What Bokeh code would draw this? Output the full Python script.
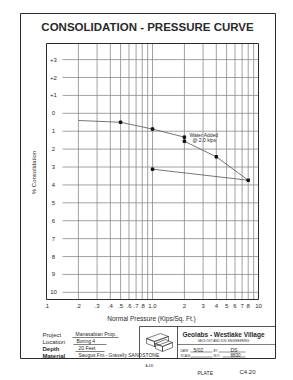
from bokeh.plotting import figure
from bokeh.models import Range1d, LogScale
from bokeh.core.properties import value
from bokeh.embed import file_html
from bokeh.resources import INLINE

# ---------------- data ----------------
# loading branch (before water added)
load_pressure = [0.2, 0.5, 1.0, 2.0]
load_consol = [0.4, 0.5, 0.88, 1.33]
load_marked = [False, True, True, True]
# after water added at 2.0 kips
wet_pressure = [2.0, 4.0, 8.0]
wet_consol = [1.56, 2.43, 3.74]
# rebound
rebound_pressure = [8.0, 1.0]
rebound_consol = [3.74, 3.12]

x_tick_values = [0.1, 0.2, 0.3, 0.4, 0.5, 0.6, 0.7, 0.8, 1.0, 2, 3, 4, 5, 6, 7, 8, 10]
x_tick_labels = [".1", ".2", ".3", ".4", ".5", ".6", ".7", ".8", "1.0", "2", "3", "4", "5", "6", "7", "8", "10"]
x_grid_values = [0.2, 0.3, 0.4, 0.5, 0.6, 0.7, 0.8, 0.9, 1, 2, 3, 4, 5, 6, 7, 8, 9]
y_tick_values = [-3, -2, -1, 0, 1, 2, 3, 4, 5, 6, 7, 8, 9, 10]
y_tick_labels = ["+3", "+2", "+1", "0", "1", "2", "3", "4", "5", "6", "7", "8", "9", "10"]

# ---------------- layout constants (canvas pixels) ----------------
W, H = 293, 380
PX_LEFT, PX_RIGHT, PX_TOP, PX_BOTTOM = 46, 258, 43, 299
X_MIN, X_MAX = 0.1, 10.0
Y_TOP, Y_BOTTOM = -3.9, 10.4

FONT = "Liberation Sans"
INK = "#2a2a2a"
GRID = "#8a8a8a"

import math
dec_px = (PX_RIGHT - PX_LEFT) / (math.log10(X_MAX) - math.log10(X_MIN))
xa = 10 ** (math.log10(X_MIN) - PX_LEFT / dec_px)
xb = 10 ** (math.log10(X_MAX) + (W - PX_RIGHT) / dec_px)
unit_px = (PX_BOTTOM - PX_TOP) / (Y_BOTTOM - Y_TOP)
ya = Y_BOTTOM + (H - PX_BOTTOM) / unit_px   # value at canvas bottom
yb = Y_TOP - PX_TOP / unit_px              # value at canvas top

p = figure(width=W, height=H, x_range=Range1d(0, W), y_range=Range1d(H, 0),
           min_border=0, x_axis_location=None, y_axis_location=None,
           output_backend="svg", toolbar_location=None)
p.title.visible = False
p.outline_line_color = None
p.grid.visible = False
p.background_fill_color = "white"
p.border_fill_color = "white"
p.extra_x_ranges = {"press": Range1d(xa, xb)}
p.extra_x_scales = {"press": LogScale()}
p.extra_y_ranges = {"pct": Range1d(ya, yb)}
C = dict(x_range_name="press", y_range_name="pct")

# vertical grid lines
p.segment(x0=x_grid_values, x1=x_grid_values, y0=[Y_TOP] * len(x_grid_values),
          y1=[Y_BOTTOM] * len(x_grid_values), line_color=GRID, line_width=0.8, **C)
# horizontal grid lines (leave room for labels on the left)
p.segment(x0=[0.1416] * len(y_tick_values), x1=[X_MAX] * len(y_tick_values),
          y0=y_tick_values, y1=y_tick_values, line_color=GRID, line_width=0.8, **C)
# frame
p.quad(left=[X_MIN], right=[X_MAX], top=[Y_TOP], bottom=[Y_BOTTOM],
       fill_alpha=0, line_color=INK, line_width=1, **C)
# tick labels
p.text(x=[X_MIN] * len(y_tick_values), y=y_tick_values, text=y_tick_labels,
       x_offset=7, text_align="center", text_baseline="middle",
       text_font=value(FONT), text_font_size="6px", text_color=INK, **C)
p.text(x=x_tick_values, y=[Y_BOTTOM] * len(x_tick_values), text=x_tick_labels,
       y_offset=6, text_align="center", text_baseline="middle",
       text_font=value(FONT), text_font_size="6px", text_color=INK, **C)

# curves
p.line(load_pressure, load_consol, line_color="#555", line_width=0.8, **C)
p.line([load_pressure[-1], wet_pressure[0]], [load_consol[-1], wet_consol[0]],
       line_color="#555", line_width=0.8, **C)
p.line(wet_pressure, wet_consol, line_color="#555", line_width=0.8, **C)
p.line(rebound_pressure, rebound_consol, line_color="#555", line_width=0.8, **C)
mx = [x for x, m in zip(load_pressure, load_marked) if m] + wet_pressure + rebound_pressure[1:]
my = [y for y, m in zip(load_consol, load_marked) if m] + wet_consol + rebound_consol[1:]
p.scatter(mx, my, marker="square", size=2.5, color="#111", **C)

p.text(x=[2.0, 2.0], y=[1.2, 1.5], text=["Water Added", "@ 2.0 kips"],
       x_offset=[5, 8], text_align="left", text_baseline="middle",
       text_font=value(FONT), text_font_size="5px", text_color=INK, **C)


# ---------------- page furniture (canvas pixels) ----------------
def lab(x, y, text, size="6px", align="left", bold=False, angle=0.0, color=INK):
    p.text(x=[x], y=[y], text=[text], text_font=value(FONT), text_font_size=size,
           text_align=align, text_baseline="middle", text_color=color,
           text_font_style="bold" if bold else "normal", angle=angle)


def seg(x0, y0, x1, y1, w=0.8):
    p.segment(x0=[x0], y0=[y0], x1=[x1], y1=[y1], line_color=INK, line_width=w)


def poly(xs, ys, w=0.6):
    p.patch(xs, ys, fill_alpha=0, line_color=INK, line_width=w)


# outer box
p.quad(left=[20], right=[275], top=[13], bottom=[358], fill_alpha=0, line_color=INK, line_width=1)
# title
lab(147, 26, "CONSOLIDATION - PRESSURE CURVE", size="11.5px", align="center", bold=True)
# axis titles
lab(33, 172, "% Consolidation", size="6px", align="center", angle=math.pi / 2)
lab(151, 318, "Normal Pressure (Kips/Sq. Ft.)", size="6.5px", align="center")

# project block
rows = [("Project", "Manasabian Prop.", 75, 118),
        ("Location", "Boring 4", 76, 106),
        ("Depth", "20 Feet", 78, 104),
        ("Material", "Saugus Fm.", 78, 104)]
ys = [334, 341, 348, 355]
for (k, v, vx, ux), yy in zip(rows, ys):
    lab(42, yy, k, size="6px", bold=(k in ("Depth", "Material")))
    lab(vx, yy - 0.5, v, size="5px")
    seg(vx - 3, yy + 3, ux, yy + 3, w=0.6)
lab(105, 354.5, "- Gravelly SANDSTONE", size="5px")

# icon box and firm box
seg(139, 326, 275, 326)
seg(139, 326, 139, 358)
seg(177, 326, 177, 358)
seg(177, 344, 275, 344, w=0.6)
# icon (two stacked slabs)
poly([146, 160, 168, 154], [338, 333, 336, 341])
poly([146, 154, 154, 146], [338, 341, 346, 343])
poly([154, 168, 168, 154], [341, 336, 341, 346])
poly([155, 165, 172, 162], [343, 339, 342, 346])
poly([155, 162, 162, 155], [343, 346, 351, 348])
poly([162, 172, 172, 162], [346, 342, 347, 351])

lab(223, 334, "Geolabs - Westlake Village", size="6.5px", align="center", bold=True)
lab(223, 340, "GEOLOGY AND SOIL ENGINEERING", size="3px", align="center")
lab(180, 350, "DATE", size="3px")
lab(193, 349, "5/02", size="5px")
seg(190, 351.5, 212, 351.5, w=0.5)
lab(213, 350, "BY", size="3px")
lab(230, 349, "DS", size="5px")
seg(218, 351.5, 245, 351.5, w=0.5)
lab(180, 355, "SCALE", size="3px")
seg(190, 356.5, 212, 356.5, w=0.5)
lab(213, 355, "W.O.", size="3px")
lab(230, 354, "8830", size="4.5px")
seg(222, 356.5, 245, 356.5, w=0.5)

lab(145, 365, "A-431", size="3px")
lab(197, 372, "PLATE", size="5px")
lab(239, 371, "C4.20", size="6px")

open("out.html", "w").write(file_html(p, INLINE))
